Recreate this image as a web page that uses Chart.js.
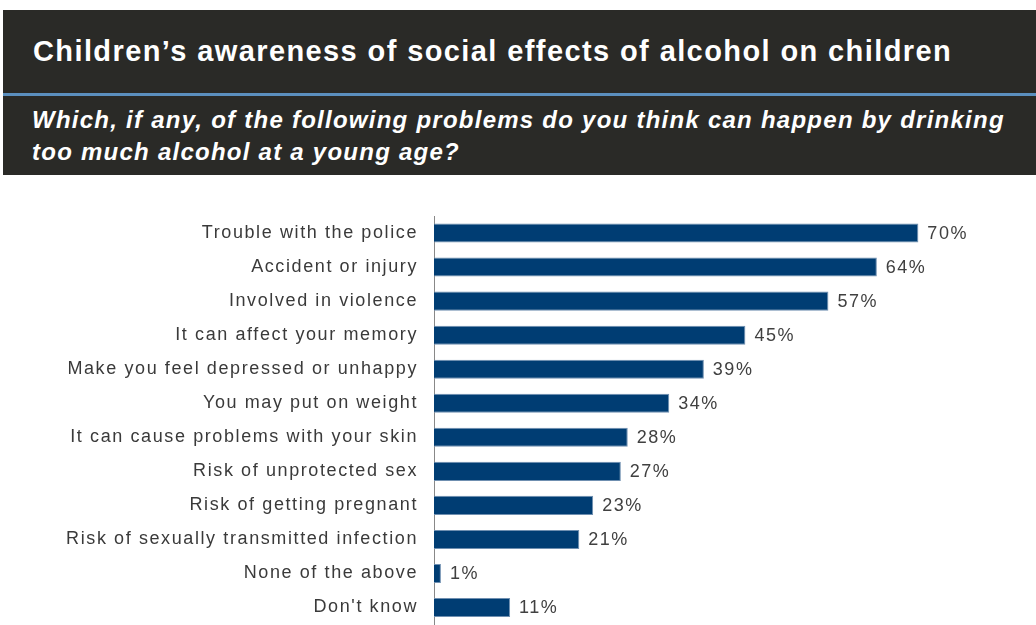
<!DOCTYPE html>
<html><head><meta charset="utf-8">
<script src="https://cdn.jsdelivr.net/npm/chart.js@4"></script>
<style>
body{margin:0;background:#fff;width:1036px;height:625px;overflow:hidden;position:relative;font-family:"Liberation Sans",Arial,sans-serif;}
#hdr{position:absolute;left:3px;top:10px;width:1033px;height:165px;background:#2a2a27;}
#line{position:absolute;left:0;top:83px;width:1033px;height:3px;background:#5b8fbf;}
#title{position:absolute;left:30px;top:25px;color:#fff;font-weight:bold;font-size:29px;letter-spacing:1.4px;white-space:nowrap;line-height:33px;}
#sub{position:absolute;left:29px;top:94px;color:#fff;font-weight:bold;font-style:italic;font-size:24px;letter-spacing:1.25px;line-height:32px;white-space:nowrap;}
#c{position:absolute;left:0;top:0;}
</style></head><body>
<div id="hdr"><div id="title">Children’s awareness of social effects of alcohol on children</div><div id="line"></div>
<div id="sub">Which, if any, of the following problems do you think can happen by drinking<br>too much alcohol at a young age?</div></div>
<canvas id="c" width="1036" height="625"></canvas>
<script>
const categories = ["Trouble with the police","Accident or injury","Involved in violence","It can affect your memory","Make you feel depressed or unhappy","You may put on weight","It can cause problems with your skin","Risk of unprotected sex","Risk of getting pregnant","Risk of sexually transmitted infection","None of the above","Don't know"];
const values = [70,64,57,45,39,34,28,27,23,21,1,11];

const spacing = {
  id:'spacing',
  beforeDraw(chart){ chart.ctx.letterSpacing='1.6px'; }
};
const valueLabels = {
  id:'valueLabels',
  afterDatasetsDraw(chart){
    const ctx = chart.ctx;
    const meta = chart.getDatasetMeta(0);
    ctx.save();
    ctx.letterSpacing='1.5px';
    ctx.font = '18px "Liberation Sans", Arial, sans-serif';
    ctx.fillStyle = '#404040';
    ctx.textBaseline = 'middle';
    ctx.textAlign = 'left';
    meta.data.forEach((bar,i)=>{ ctx.fillText(values[i]+'%', bar.x+9, bar.y+1); });
    ctx.restore();
  }
};

new Chart(document.getElementById('c'),{
  type:'bar',
  data:{labels:categories,datasets:[{data:values,backgroundColor:'#003d73',borderColor:'#6f8fb0',borderWidth:{top:1,bottom:1,right:1,left:0},borderSkipped:'left',categoryPercentage:1,barPercentage:0.56}]},
  options:{
    indexAxis:'y',responsive:false,animation:false,
    layout:{padding:{top:216,bottom:0,left:0,right:0}},
    plugins:{legend:{display:false},tooltip:{enabled:false}},
    scales:{
      x:{min:0,max:87,display:false},
      y:{
        afterFit(s){s.width=434;},
        grid:{display:false,drawTicks:true,tickLength:16},
        border:{display:true,color:'#888',width:1},
        ticks:{padding:0,color:'#3a3a3a',font:{size:18,lineHeight:0.05,family:'"Liberation Sans", Arial, sans-serif'}}
      }
    }
  },
  plugins:[spacing,valueLabels]
});
</script></body></html>
